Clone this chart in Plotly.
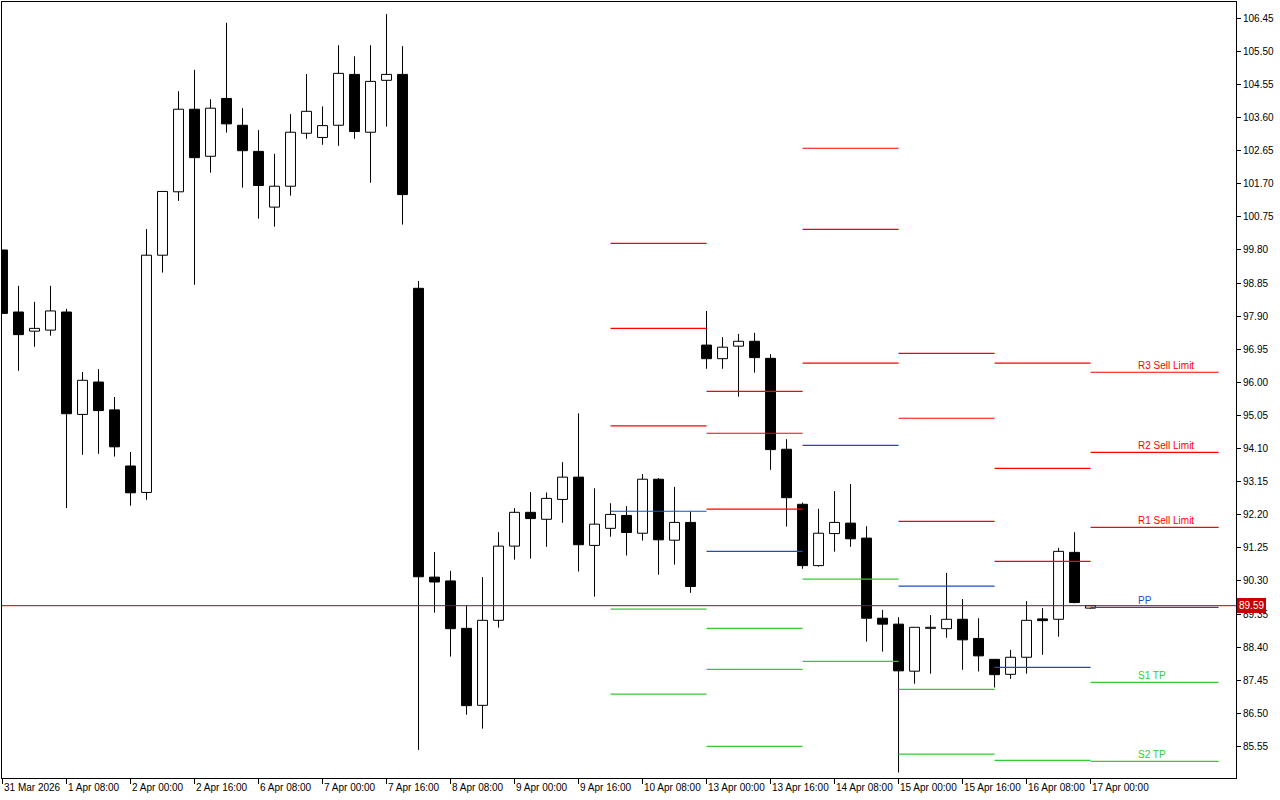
import plotly.graph_objects as go

# ---------------- data (H4 bars, index 0 = 31 Mar 2026 16:00) ----------------
opens = [99.80, 98.02, 97.47, 97.50, 98.02, 95.08, 96.01, 95.21, 93.60, 92.84,
         99.65, 101.47, 103.84, 102.49, 104.15, 103.38, 102.63, 101.03, 101.63, 103.15,
         103.03, 103.38, 104.84, 103.18, 104.67, 104.84, 98.70, 90.41, 90.30, 88.94,
         86.73, 89.17, 91.30, 92.27, 92.07, 92.64, 93.28, 91.32, 91.81, 92.18,
         91.67, 93.22, 91.47, 91.98, 97.07, 96.68, 97.04, 97.18, 96.69, 94.08,
         92.50, 90.74, 91.66, 91.96, 91.53, 89.23, 89.06, 87.71, 88.94, 88.93,
         89.20, 88.65, 88.05, 87.62, 88.11, 89.21, 89.20, 91.12, 89.52]
highs = [99.80, 98.77, 98.31, 98.77, 98.11, 96.30, 96.38, 95.58, 94.00, 100.40,
         101.48, 104.36, 104.97, 104.13, 106.32, 103.87, 103.24, 102.56, 103.70, 104.85,
         103.92, 105.68, 105.36, 105.68, 106.57, 105.65, 98.91, 91.13, 90.59, 89.61,
         90.41, 91.70, 92.39, 92.85, 92.84, 93.71, 95.11, 92.96, 92.53, 92.45,
         93.37, 93.25, 93.00, 92.29, 98.05, 97.30, 97.39, 97.42, 96.81, 94.37,
         92.55, 92.37, 92.88, 93.08, 91.87, 89.47, 89.26, 88.97, 89.32, 90.53,
         89.78, 89.23, 88.05, 88.32, 89.72, 89.52, 91.25, 91.70, 89.60]
lows = [97.98, 96.33, 97.02, 97.34, 92.39, 93.92, 93.95, 93.87, 92.46, 92.63,
        99.15, 101.21, 98.80, 102.02, 103.17, 101.59, 100.70, 100.47, 101.36, 102.99,
        102.82, 102.79, 102.99, 101.73, 103.34, 100.53, 85.45, 89.39, 88.13, 86.46,
        86.06, 88.96, 90.91, 90.94, 91.28, 91.97, 90.57, 89.85, 91.57, 91.03,
        91.46, 90.48, 90.77, 89.96, 96.39, 96.39, 95.59, 96.28, 93.49, 91.86,
        90.65, 90.71, 91.14, 91.28, 88.56, 88.27, 84.80, 87.35, 87.64, 88.67,
        87.75, 87.70, 87.24, 87.49, 87.64, 88.18, 88.70, 89.66, 89.50]
closes = [97.98, 97.37, 97.55, 98.05, 95.10, 96.06, 95.19, 94.15, 92.83, 99.65,
          101.48, 103.84, 102.45, 103.87, 103.42, 102.65, 101.65, 101.63, 103.18, 103.78,
          103.37, 104.87, 103.20, 104.64, 104.84, 101.39, 90.42, 90.27, 88.93, 86.72,
          89.17, 91.30, 92.27, 92.09, 92.67, 93.28, 91.34, 91.93, 92.21, 91.69,
          93.22, 91.48, 91.98, 90.14, 96.68, 97.01, 97.18, 96.71, 94.07, 92.69,
          90.74, 91.67, 91.98, 91.51, 89.23, 89.06, 87.72, 88.97, 88.94, 89.20,
          88.61, 88.15, 87.61, 88.11, 89.17, 89.16, 91.15, 89.68, 89.59]

tick_pos = list(range(0, 69, 4))
tick_labels = ["31 Mar 2026", "1 Apr 08:00", "2 Apr 00:00", "2 Apr 16:00", "6 Apr 08:00",
               "7 Apr 00:00", "7 Apr 16:00", "8 Apr 08:00", "9 Apr 00:00", "9 Apr 16:00",
               "10 Apr 08:00", "13 Apr 00:00", "13 Apr 16:00", "14 Apr 08:00", "15 Apr 00:00",
               "15 Apr 16:00", "16 Apr 08:00", "17 Apr 00:00"]

price_ticks = [85.55, 86.50, 87.45, 88.40, 89.35, 90.30, 91.25, 92.20, 93.15, 94.10,
               95.05, 96.00, 96.95, 97.90, 98.85, 99.80, 100.75, 101.70, 102.65, 103.60,
               104.55, 105.50, 106.45]

# daily pivot segments (bar index start/end)
day_start = [38, 44, 50, 56, 62, 68]
day_end = [44, 50, 56, 62, 68, 76]
R3 = [99.99, 95.74, 102.72, 96.83, 96.55, 96.29]
R2 = [97.55, 94.54, 100.39, 94.97, 93.53, 93.99]
R1 = [94.75, 92.36, 96.55, 92.01, 90.86, 91.84]
PP = [92.30, 91.15, 94.19, 90.15, 87.82, 89.54]
S1 = [89.49, 88.94, 90.35, 87.19, 85.15, 87.39]
S2 = [87.05, 87.76, 87.99, 85.33, None, 85.12]
S3 = [None, 85.55, None, None, None, None]

level_names = ["R3 Sell Limit", "R2 Sell Limit", "R1 Sell Limit", "PP", "S1 TP", "S2 TP"]
bid = 89.59

RED = "#FF0000"
BLUE = "#1450C8"
GREEN = "#32CD32"

# ---------------- figure ----------------
fig = go.Figure()

idx = list(range(len(opens)))
base = [min(o, c) for o, c in zip(opens, closes)]
height = [max(abs(c - o), 0.03) for o, c in zip(opens, closes)]
colors = ["white" if c >= o else "black" for o, c in zip(opens, closes)]

# wicks (outside bodies)
wx, wy = [], []
for i, o, h, l, c in zip(idx, opens, highs, lows, closes):
    top, bot = max(o, c), min(o, c)
    if h > top:
        wx += [i, i, None]
        wy += [h, top, None]
    if l < bot:
        wx += [i, i, None]
        wy += [bot, l, None]
fig.add_trace(go.Scatter(x=wx, y=wy, mode="lines",
                         line=dict(color="black", width=1), hoverinfo="skip"))

fig.add_trace(go.Bar(x=idx, y=height, base=base, width=0.62,
                     marker=dict(color=colors, line=dict(color="black", width=1)),
                     hoverinfo="skip"))


def seg(levels):
    xs, ys = [], []
    for s, e, v in zip(day_start, day_end, levels):
        if v is None:
            continue
        xs += [s, e, None]
        ys += [v, v, None]
    return xs, ys


for levels, col in [(R3, RED), (R2, RED), (R1, RED), (PP, BLUE),
                    (S1, GREEN), (S2, GREEN), (S3, GREEN)]:
    xs, ys = seg(levels)
    fig.add_trace(go.Scatter(x=xs, y=ys, mode="lines",
                             line=dict(color=col, width=1.2), hoverinfo="skip"))

# bid line
fig.add_trace(go.Scatter(x=[-1, 80], y=[bid, bid], mode="lines",
                         line=dict(color="#B40000", width=1), hoverinfo="skip"))

annotations = []
for p, t in zip(tick_pos, tick_labels):
    annotations.append(dict(x=p, y=0, xref="x", yref="paper", text=t,
                            xanchor="left", yanchor="top", showarrow=False,
                            xshift=-1, yshift=-2,
                            font=dict(size=10, color="black", family="Liberation Sans")))

last_levels = [R3[-1], R2[-1], R1[-1], PP[-1], S1[-1], S2[-1]]
label_cols = [RED, RED, RED, BLUE, GREEN, GREEN]
for name, v, col in zip(level_names, last_levels, label_cols):
    annotations.append(dict(x=71, y=v, xref="x", yref="y", text=name,
                            xanchor="left", yanchor="bottom", showarrow=False,
                            xshift=-3, yshift=-1,
                            font=dict(size=10, color=col, family="Liberation Sans")))

annotations.append(dict(x=1, y=bid, xref="paper", yref="y", text="89.59",
                        xanchor="left", yanchor="middle", showarrow=False,
                        xshift=1, bgcolor="#C80000", borderpad=2, borderwidth=0,
                        font=dict(size=10, color="white", family="Liberation Sans")))

fig.update_layout(
    width=1280, height=800,
    margin=dict(l=2, r=44, t=2, b=22),
    plot_bgcolor="white", paper_bgcolor="white",
    showlegend=False,
    annotations=annotations,
    font=dict(family="Liberation Sans", size=10, color="black"),
    xaxis=dict(range=[-0.03125, 77.09], showgrid=False, zeroline=False,
               showline=True, linecolor="black", linewidth=1, mirror=True,
               ticks="outside", ticklen=5, tickcolor="black", tickwidth=1,
               tickvals=tick_pos, showticklabels=False, automargin=False,
               fixedrange=True),
    yaxis=dict(range=[84.644, 106.918], side="right", showgrid=False, zeroline=False,
               showline=True, linecolor="black", linewidth=1, mirror=True,
               ticks="outside", ticklen=4, tickcolor="black", tickwidth=1,
               tickvals=price_ticks, ticktext=[f"{v:.2f}" for v in price_ticks],
               tickfont=dict(size=10, color="black", family="Liberation Sans"),
               automargin=False, fixedrange=True),
)

fig.write_html("out.html", config={"displayModeBar": False},
               post_script="document.body.style.margin='0px';document.body.style.overflow='hidden';")
